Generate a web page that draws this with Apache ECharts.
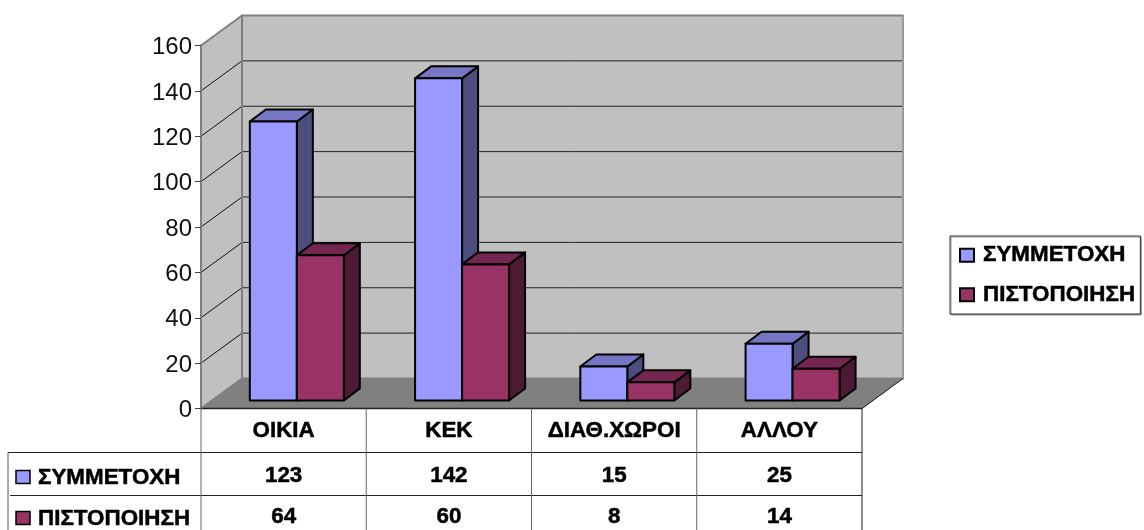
<!DOCTYPE html>
<html><head><meta charset="utf-8">
<style>html,body{margin:0;padding:0;background:#fff}#c{width:1144px;height:530px}</style>
<script src="https://cdn.jsdelivr.net/npm/echarts@6/dist/echarts.min.js"></script>
</head><body><div id="c"></div>
<script>
const categories = ['ΟΙΚΙΑ', 'ΚΕΚ', 'ΔΙΑΘ.ΧΩΡΟΙ', 'ΑΛΛΟΥ'];
const seriesNames = ['ΣΥΜΜΕΤΟΧΗ', 'ΠΙΣΤΟΠΟΙΗΣΗ'];
const participation = [123, 142, 15, 25];
const certification = [64, 60, 8, 14];
const yTicks = [0, 20, 40, 60, 80, 100, 120, 140, 160];

const FONT = '"Liberation Sans", Arial, sans-serif';
const frontColors = ['#9999ff', '#993366'];
const topColors = ['#7676c4', '#752650'];
const sideColors = ['#4d4d80', '#4d1a33'];
const rows = [participation, certification];
const WALL = {dx: 41, dy: 30}, BAR = {dx: 16, dy: 12, w: 47, base: 8, shift: 13.2};

const chart = echarts.init(document.getElementById('c'), null, {renderer: 'canvas'});

function poly(points, fill, stroke, lw) {
  return {type: 'polygon', shape: {points}, style: {fill, stroke: stroke || null, lineWidth: lw || 0, lineJoin: 'round'}};
}
function seg(x1, y1, x2, y2, stroke, lw) {
  return {type: 'line', shape: {x1, y1, x2, y2}, style: {stroke, lineWidth: lw || 1}};
}
function label(text, x, y, align, size) {
  return {type: 'text', style: {text, x, y, font: 'bold ' + (size || 22.4) + 'px ' + FONT, fill: '#000', stroke: '#000', lineWidth: 0.5,
    textAlign: align, textVerticalAlign: 'middle', align: align, verticalAlign: 'middle'}};
}

function renderWalls(params, api) {
  const g = params.coordSys, L = g.x, R = g.x + g.width, T = g.y, B = g.y + g.height;
  const d = WALL, c = [];
  c.push(poly([[L + d.dx, T - d.dy], [R + d.dx, T - d.dy], [R + d.dx, B - d.dy], [L + d.dx, B - d.dy]], '#c0c0c0', '#808080', 2));
  c.push(poly([[L, T], [L + d.dx, T - d.dy], [L + d.dx, B - d.dy], [L, B]], '#c0c0c0', '#808080', 2));
  c.push(poly([[L, B], [L + d.dx, B - d.dy], [R + d.dx, B - d.dy], [R, B]], '#808080', '#808080', 1));
  yTicks.forEach(v => {
    const y = api.coord([0, v])[1];
    c.push({type: 'text', style: {text: String(v), x: L - 9, y: y + 2, font: '24px ' + FONT, fill: '#111',
      textAlign: 'right', textVerticalAlign: 'middle', align: 'right', verticalAlign: 'middle'}});
    if (v === 0 || v === 160) return;
    c.push(seg(L, y, L + d.dx, y - d.dy, '#111', 1));
    c.push(seg(L + d.dx, y - d.dy, R + d.dx, y - d.dy, '#222', 1));
  });
  c.push(seg(L + d.dx, T - d.dy, L + d.dx, B - d.dy, '#808080', 2));
  c.push(seg(R + d.dx, T - d.dy, R + d.dx, B - d.dy, '#999', 2));
  c.push(seg(R, B, R + d.dx, B - d.dy, '#222', 1));
  return {type: 'group', children: c};
}

function renderBar(s) {
  return function (params, api) {
    const p = api.coord([api.value(0), api.value(1)]);
    const z = api.coord([api.value(0), 0]);
    const x0 = p[0] + BAR.shift - (s === 0 ? BAR.w : 0), x1 = x0 + BAR.w;
    const yB = z[1] - BAR.base, yT = p[1] - BAR.base, dx = BAR.dx, dy = BAR.dy;
    const st = '#000', lw = 2;
    return {type: 'group', children: [
      poly([[x1, yT], [x1 + dx, yT - dy], [x1 + dx, yB - dy], [x1, yB]], sideColors[s], st, lw),
      poly([[x0, yT], [x0 + dx, yT - dy], [x1 + dx, yT - dy], [x1, yT]], topColors[s], st, lw),
      poly([[x0, yT], [x1, yT], [x1, yB], [x0, yB]], frontColors[s], st, lw)
    ]};
  };
}

function renderTable(params, api) {
  const g = params.coordSys, L = g.x, R = g.x + g.width, B = g.y + g.height;
  const r1 = B + 44, r2 = B + 87, bottom = 530, left = 8, c = [];
  const cw = g.width / categories.length;
  c.push(seg(L, B, R, B, '#222', 1.5));
  c.push(seg(left, r1, R, r1, '#222', 1));
  c.push(seg(left + 2, r2, R, r2, '#222', 1));
  c.push(seg(left, r1, left, bottom, '#555', 1));
  for (let i = 0; i <= categories.length; i++) {
    c.push(seg(L + i * cw, B, L + i * cw, bottom, i === categories.length ? '#222' : '#666', 1));
  }
  categories.forEach((name, i) => {
    const x = api.coord([i, 0])[0];
    c.push(label(name, x, B + 22, 'center'));
    rows.forEach((vals, s) => c.push(label(String(vals[i]), x, (s ? r2 : r1) + (s ? 21 : 23), 'center')));
  });
  seriesNames.forEach((n, s) => {
    const top = s ? r2 + 16 : r1 + 18;
    c.push({type: 'rect', shape: {x: 16, y: top, width: 14, height: 13}, style: {fill: frontColors[s], stroke: '#000', lineWidth: 1.5}});
    c.push(label(n, 38, top + 7.5, 'left'));
  });
  return {type: 'group', children: c};
}

const barSeries = [participation, certification].map((vals, s) => ({
  type: 'custom', name: seriesNames[s], z: 3 + s, silent: true,
  itemStyle: {color: frontColors[s], borderColor: '#000', borderWidth: 1.5},
  renderItem: renderBar(s), encode: {x: 0, y: 1},
  data: vals.map((v, i) => [i, v])
}));

chart.setOption({
  animation: false,
  backgroundColor: '#fff',
  tooltip: {show: false},
  grid: {left: 201, top: 45.5, width: 661, height: 363, containLabel: false},
  xAxis: {type: 'category', data: categories, axisLabel: {show: false}, axisTick: {show: false}, axisLine: {show: false}, splitLine: {show: false}},
  yAxis: {type: 'value', min: 0, max: 160, interval: 20, z: 6,
    axisLine: {show: true, lineStyle: {color: '#808080', width: 2}},
    axisTick: {show: true, length: 6, lineStyle: {color: '#444', width: 1}},
    axisLabel: {show: false},
    splitLine: {show: false}},
  legend: {orient: 'vertical', left: 950, top: 236, data: seriesNames, icon: 'rect', itemWidth: 14, itemHeight: 13, itemGap: 17,
    padding: [8, 5, 8, 9], backgroundColor: '#fff', borderColor: '#333', borderWidth: 1,
    shadowColor: '#999', shadowOffsetX: 1, shadowOffsetY: 1, shadowBlur: 0,
    selectedMode: false, textStyle: {fontFamily: FONT, fontWeight: 'bold', fontSize: 22.4, color: '#000', textBorderColor: '#000', textBorderWidth: 0.5, padding: [0, 0, 0, 4]}},
  series: [
    {type: 'custom', name: 'walls', z: 1, silent: true, renderItem: renderWalls, encode: {x: 0, y: 1}, data: [[0, 0]]},
    {type: 'custom', name: 'table', z: 2, silent: true, renderItem: renderTable, encode: {x: 0, y: 1}, data: [[0, 0]]},
    ...barSeries
  ]
});
</script></body></html>
